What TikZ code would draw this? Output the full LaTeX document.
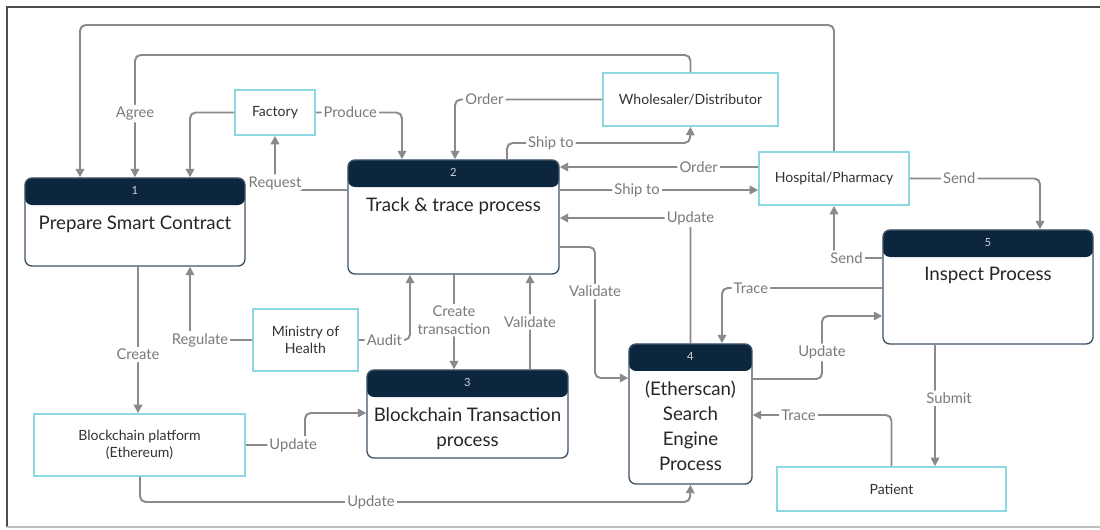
\documentclass[tikz,border=0pt]{standalone}
\usepackage{fontspec}
\usepackage{tikz}
\usepackage{xcolor}
\usetikzlibrary{arrows.meta}
\setmainfont{Lato}

\definecolor{headnavy}{HTML}{0B263D}
\definecolor{boxline}{HTML}{3F5468}
\definecolor{partcyan}{HTML}{8DD9E3}
\definecolor{flowgray}{HTML}{8A8A8A}
\definecolor{labelgray}{HTML}{7A7A7A}
\definecolor{textdark}{HTML}{333333}

\begin{document}
\begin{tikzpicture}[
            x=0.025cm, y=-0.025cm,
            process/.style={rectangle, draw=boxline, line width=1pt, rounded corners=5pt, fill=white,
                path picture={\fill[headnavy] (path picture bounding box.north west) rectangle ([yshift=-0.675cm]path picture bounding box.north east);}},
            party/.style={rectangle, draw=partcyan, line width=1.2pt, fill=white, text=textdark, align=center, font=\fontsize{10}{12.5}\selectfont},
            number/.style={text=white!80!headnavy, font=\fontsize{8}{9}\selectfont},
            title/.style={anchor=north, text=black!85, align=center, font=\fontsize{13.3}{17.7}\selectfont},
            arrow/.style={draw=flowgray, line width=1.4pt, rounded corners=4pt, -{Triangle[length=6pt, width=6pt]}},
            lbl/.style={fill=white, text=labelgray, inner sep=1.5pt, align=center, font=\fontsize{10.5}{12.5}\selectfont}
        ]
            
            % Frame
            \useasboundingbox (0,0) rectangle (1100,529);
            \draw[black!70, line width=1pt] (1100,7) -- (7,7) -- (7,527);
            \draw[black!25, line width=1pt] (7,527) -- (1100,527);

            % Process blocks
            \node[process, minimum width=5.5cm, minimum height=2.2cm] (prepare) at (135,222) {};
            \node[number] (prepare_num) at ([yshift=-0.33cm]prepare.north) {1};
            \node[title] (prepare_title) at ([yshift=-0.83cm]prepare.north) {Prepare Smart Contract};

            \node[process, minimum width=5.275cm, minimum height=2.85cm] (track) at (453.5,217) {};
            \node[number] (track_num) at ([yshift=-0.33cm]track.north) {2};
            \node[title] (track_title) at ([yshift=-0.83cm]track.north) {Track \& trace process};

            \node[process, minimum width=5.025cm, minimum height=2.2cm] (transaction) at (467.5,414) {};
            \node[number] (transaction_num) at ([yshift=-0.33cm]transaction.north) {3};
            \node[title] (transaction_title) at ([yshift=-0.83cm]transaction.north) {Blockchain Transaction\\process};

            \node[process, minimum width=3.075cm, minimum height=3.5cm] (search) at (690.5,414) {};
            \node[number] (search_num) at ([yshift=-0.33cm]search.north) {4};
            \node[title] (search_title) at ([yshift=-0.83cm]search.north) {(Etherscan)\\Search\\Engine\\Process};

            \node[process, minimum width=5.25cm, minimum height=2.85cm] (inspect) at (988,287) {};
            \node[number] (inspect_num) at ([yshift=-0.33cm]inspect.north) {5};
            \node[title] (inspect_title) at ([yshift=-0.83cm]inspect.north) {Inspect Process};

            % Parties
            \node[party, minimum width=2cm, minimum height=1.125cm] (factory) at (275,112.5) {Factory};
            \node[party, minimum width=4.375cm, minimum height=1.325cm] (wholesaler) at (690.5,99.5) {Wholesaler/Distributor};
            \node[party, minimum width=3.75cm, minimum height=1.325cm] (hospital) at (834,178.5) {Hospital/Pharmacy};
            \node[party, minimum width=2.625cm, minimum height=1.55cm] (ministry) at (305.5,340) {Ministry of\\Health};
            \node[party, minimum width=5.275cm, minimum height=1.55cm] (platform) at (139.5,445) {Blockchain platform\\(Ethereum)};
            \node[party, minimum width=5.725cm, minimum height=1.1cm] (patient) at (891.5,489) {Patient};

            % Flows
            \draw[arrow] (hospital.north) |- (80,25) -- (prepare.north -| 80,0);
            \draw[arrow] (wholesaler.north) |- (135,55) -- node[lbl, pos=0.48] {Agree} (prepare.north -| 135,0);
            \draw[arrow] (factory.west) -| (prepare.north -| 190,0);
            \draw[arrow] (track.west |- 0,190) -| node[lbl, pos=0.5, yshift=5pt] {Request} (factory.south);
            \draw[arrow] (factory.east) -| node[lbl, pos=0.2] {Produce} (track.north -| 402,0);
            \draw[arrow] (wholesaler.west) -| node[lbl, pos=0.4] {Order} (track.north -| 455,0);
            \draw[arrow] (track.north -| 507,0) |- node[lbl, pos=0.62] {Ship to} (690,143) -- (wholesaler.south);
            \draw[arrow] (hospital.west |- 0,167) -- node[lbl, pos=0.3] {Order} (track.east |- 0,167);
            \draw[arrow] (track.east |- 0,190) -- node[lbl, pos=0.39] {Ship to} (hospital.west |- 0,190);
            \draw[arrow] (search.north) |- node[lbl, pos=0.5] {Update} (track.east |- 0,218);
            \draw[arrow] (track.east |- 0,247) -| node[lbl, pos=0.67] {Validate} (595,378) -- (search.west |- 0,378);
            \draw[arrow] (hospital.east) -| node[lbl, pos=0.19] {Send} (inspect.north -| 1040,0);
            \draw[arrow] (inspect.west |- 0,258) -| node[lbl, pos=0.37] {Send} (hospital.south);
            \draw[arrow] (inspect.west |- 0,288) -| node[lbl, pos=0.41] {Trace} (search.north -| 722,0);
            \draw[arrow] (search.east |- 0,379) -| node[lbl, pos=0.71] {Update} (822,316) -- (inspect.west |- 0,316);
            \draw[arrow] (inspect.south -| 935,0) -- node[lbl, pos=0.44, xshift=10pt] {Submit} (patient.north -| 935,0);
            \draw[arrow] (patient.north) |- node[lbl, pos=0.835] {Trace} (search.east |- 0,415);
            \draw[arrow] (ministry.west) -| node[lbl, pos=0.42] {Regulate} (prepare.south -| 190,0);
            \draw[arrow] (prepare.south -| 138,0) -- node[lbl, pos=0.6] {Create} (platform.north -| 138,0);
            \draw[arrow] (ministry.east) -| node[lbl, pos=0.25] {Audit} (track.south -| 410,0);
            \draw[arrow] (track.south -| 454,0) -- node[lbl, pos=0.48] {Create\\transaction} (transaction.north -| 454,0);
            \draw[arrow] (transaction.north -| 530,0) -- node[lbl, pos=0.5] {Validate} (track.south -| 530,0);
            \draw[arrow] (platform.east) -| node[lbl, pos=0.4] {Update} (305,413) -- (transaction.west |- 0,413);
            \draw[arrow] (platform.south -| 140,0) |- node[lbl, pos=0.71] {Update} (690,502) -- (search.south);
        \end{tikzpicture}
\end{document}
